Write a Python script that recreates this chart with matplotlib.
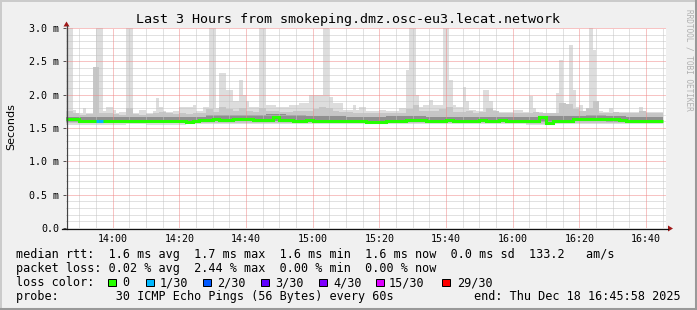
import numpy as np
import matplotlib.pyplot as plt
from matplotlib.patches import Rectangle, Polygon

W, H = 697, 310

# time axis in minutes after midnight (Thu Dec 18 2025)
t_start = 13 * 60 + 45 + 58 / 60
t_end = 16 * 60 + 45 + 58 / 60
t_data = 826  # first 60s step

# max ping per minute (ms), 179 steps
ping_max = [
    3.5, 3.5, 1.77, 1.72, 1.72, 1.80, 1.72, 1.73, 1.75, 3.5,
    3.5, 1.75, 1.82, 1.82, 1.77, 1.72, 1.74, 1.74, 3.5, 3.5,
    1.72, 1.72, 1.77, 1.77, 1.72, 1.72, 1.75, 1.95, 1.82, 1.75,
    1.74, 1.74, 1.75, 1.75, 1.82, 1.82, 1.82, 1.82, 1.85, 1.75,
    1.75, 1.82, 1.82, 3.5, 3.5, 1.80, 2.32, 2.32, 2.07, 2.07,
    1.90, 1.90, 2.22, 2.00, 1.90, 1.82, 1.82, 1.82, 3.5, 3.5,
    1.85, 1.85, 1.85, 1.82, 1.82, 1.82, 1.82, 1.85, 1.85, 1.85,
    1.88, 1.88, 1.88, 2.00, 2.00, 2.00, 2.00, 3.5, 3.5, 1.96,
    1.88, 1.88, 1.88, 1.77, 1.77, 1.77, 1.85, 1.77, 1.82, 1.82,
    1.75, 1.75, 1.75, 1.75, 1.77, 1.77, 1.75, 1.75, 1.75, 1.75,
    1.80, 1.80, 2.37, 3.5, 3.5, 2.00, 1.82, 1.85, 1.85, 1.92,
    1.85, 1.85, 1.85, 3.5, 3.5, 2.22, 1.85, 1.82, 1.82, 2.12,
    1.90, 1.77, 1.77, 1.75, 1.75, 2.07, 2.07, 1.90, 1.77, 1.74,
    1.74, 1.74, 1.74, 1.74, 1.77, 1.77, 1.77, 1.74, 1.74, 1.98,
    1.80, 1.72, 1.74, 1.72, 1.72, 1.72, 1.72, 2.02, 2.52, 1.85,
    1.77, 2.75, 2.07, 1.82, 1.85, 1.75, 1.75, 3.5, 2.67, 1.77,
    1.75, 1.74, 1.74, 1.80, 1.74, 1.74, 1.74, 1.74, 1.74, 1.74,
    1.74, 1.74, 1.82, 1.74, 1.74, 1.74, 1.74, 1.74, 1.74,
]

# 90th percentile ping and median, 2 minute steps
ping_p90 = [
    1.76, 1.72, 1.70, 1.71, 2.42, 1.72, 1.72, 1.71, 1.70, 1.80,
    1.71, 1.70, 1.71, 1.72, 1.74, 1.72, 1.71, 1.72, 1.71, 1.72,
    1.72, 1.78, 1.74, 1.82, 1.78, 1.76, 1.80, 1.76, 1.74, 1.80,
    1.76, 1.76, 1.74, 1.74, 1.75, 1.76, 1.76, 1.78, 1.82, 1.80,
    1.76, 1.74, 1.74, 1.72, 1.72, 1.72, 1.72, 1.73, 1.72, 1.72,
    1.73, 1.78, 1.85, 1.76, 1.76, 1.75, 1.78, 1.82, 1.74, 1.74,
    1.76, 1.72, 1.74, 1.80, 1.76, 1.72, 1.72, 1.72, 1.72, 1.72,
    1.74, 1.72, 1.72, 1.72, 1.88, 1.86, 1.78, 1.76, 1.80, 1.90,
    1.72, 1.72, 1.74, 1.72, 1.72, 1.72, 1.76, 1.72, 1.72, 1.72,
]
median_rtt = [
    1.63, 1.63, 1.60, 1.60, 1.60, 1.61, 1.61, 1.61, 1.60, 1.61,
    1.60, 1.60, 1.61, 1.60, 1.61, 1.61, 1.61, 1.60, 1.595, 1.60,
    1.625, 1.62, 1.63, 1.625, 1.62, 1.64, 1.64, 1.635, 1.625, 1.62,
    1.625, 1.66, 1.625, 1.62, 1.61, 1.61, 1.615, 1.61, 1.60, 1.61,
    1.61, 1.605, 1.61, 1.60, 1.61, 1.595, 1.59, 1.59, 1.605, 1.61,
    1.61, 1.615, 1.62, 1.615, 1.61, 1.61, 1.61, 1.615, 1.61, 1.61,
    1.61, 1.61, 1.615, 1.61, 1.61, 1.615, 1.61, 1.61, 1.605, 1.61,
    1.61, 1.66, 1.58, 1.61, 1.61, 1.61, 1.63, 1.63, 1.63, 1.63,
    1.63, 1.64, 1.64, 1.62, 1.61, 1.61, 1.61, 1.61, 1.605, 1.61,
]

# inner smoke and lowest ping, 6 minute steps
ping_p75 = [1.67, 1.66, 1.66, 1.66, 1.66, 1.66, 1.67, 1.69, 1.70, 1.70,
            1.71, 1.69, 1.68, 1.68, 1.67, 1.67, 1.68, 1.68, 1.67, 1.67,
            1.67, 1.66, 1.67, 1.67, 1.68, 1.68, 1.69, 1.68, 1.67, 1.66]
ping_p25 = [1.595, 1.585, 1.585, 1.59, 1.585, 1.585, 1.59, 1.60, 1.60, 1.60,
            1.60, 1.59, 1.59, 1.59, 1.59, 1.59, 1.59, 1.59, 1.59, 1.59,
            1.59, 1.59, 1.59, 1.585, 1.59, 1.60, 1.60, 1.59, 1.59, 1.59]
ping_p10 = [1.575, 1.57, 1.57, 1.57, 1.57, 1.57, 1.575, 1.58, 1.58, 1.58,
            1.58, 1.575, 1.57, 1.57, 1.57, 1.57, 1.57, 1.57, 1.57, 1.57,
            1.57, 1.57, 1.57, 1.565, 1.57, 1.58, 1.58, 1.57, 1.57, 1.57]
ping_min = [1.545, 1.55, 1.55, 1.555, 1.55, 1.55, 1.555, 1.56, 1.56, 1.56,
            1.56, 1.555, 1.555, 1.555, 1.555, 1.555, 1.555, 1.555, 1.555, 1.555,
            1.555, 1.555, 1.555, 1.55, 1.555, 1.56, 1.56, 1.555, 1.555, 1.555]

# minutes (from t_data) where 1 of 30 pings was lost
loss_minutes = [9, 10]

loss_labels = ["0", "1/30", "2/30", "3/30", "4/30", "15/30", "29/30"]
loss_colors = ["#26ff00", "#00b8ff", "#0059ff", "#5e00ff", "#7e00ff", "#dd00ff", "#ff0000"]

y_ticks = [0.0, 0.5, 1.0, 1.5, 2.0, 2.5, 3.0]
y_tick_labels = ["0.0", "0.5 m", "1.0 m", "1.5 m", "2.0 m", "2.5 m", "3.0 m"]
x_ticks = [840, 860, 880, 900, 920, 940, 960, 980, 1000]
x_tick_labels = ["14:00", "14:20", "14:40", "15:00", "15:20", "15:40", "16:00", "16:20", "16:40"]

legend_lines = [
    "median rtt:  1.6 ms avg  1.7 ms max  1.6 ms min  1.6 ms now  0.0 ms sd  133.2   am/s",
    "packet loss: 0.02 % avg  2.44 % max  0.00 % min  0.00 % now",
    "loss color:",
    "probe:        30 ICMP Echo Pings (56 Bytes) every 60s",
]
end_text = "end: Thu Dec 18 16:45:58 2025"

plt.rcParams['font.family'] = ['DejaVu Sans Mono']
mono = 'DejaVu Sans Mono'

fig = plt.figure(figsize=(W / 100, H / 100), dpi=100, facecolor='#f0f0f0')
ax = fig.add_axes([66 / W, (H - 228) / H, 600 / W, 200 / H])
ax.set_facecolor('white')
ax.set_xlim(t_start, t_end)
ax.set_ylim(0, 3.0)
for s in ax.spines.values():
    s.set_visible(False)

n = len(ping_max)
t_end_data = t_data + n
edges1 = t_data + np.arange(n + 1)
edges2 = np.minimum(t_data + 2 * np.arange(len(median_rtt) + 1), t_end_data)
edges6 = np.minimum(t_data + 6 * np.arange(len(ping_p75) + 1), t_end_data)

# smoke layers
low1 = np.repeat(ping_min, 6)[:n]
ax.stairs(ping_max, edges1, baseline=low1, fill=True, color='#dddddd', zorder=1)
low2 = np.repeat(ping_p10, 3)[:len(ping_p90)]
ax.stairs(ping_p90, edges2, baseline=low2, fill=True, color='#c6c6c6', zorder=2)
ax.stairs(ping_p75, edges6, baseline=ping_p25, fill=True, color='#8f8f8f', zorder=3)

# grid drawn over the smoke, like rrdtool
minor_x = [m for m in range(830, 1006, 5) if m not in x_ticks]
minor_y = [v / 10 for v in range(1, 30) if v % 5 != 0]
for xv in minor_x:
    ax.axvline(xv, color='#c4c4c4', lw=0.72, ls=(0, (1, 1)), zorder=3.4)
for yv in minor_y:
    ax.axhline(yv, color='#c4c4c4', lw=0.72, ls=(0, (1, 1)), zorder=3.4)
for xv in x_ticks:
    ax.axvline(xv, color='#f08888', lw=0.72, ls=(0, (1, 1)), zorder=3.5)
for yv in y_ticks[1:]:
    ax.axhline(yv, color='#f08888', lw=0.72, ls=(0, (1, 1)), zorder=3.5)

# median line coloured by loss
ax.stairs(median_rtt, edges2, baseline=None, color=loss_colors[0], lw=2.2, zorder=4)
for m in loss_minutes:
    v = median_rtt[m // 2]
    ax.hlines(v, t_data + m, t_data + m + 1, color=loss_colors[1], lw=2.2, zorder=5)

ax.set_yticks(y_ticks)
ax.set_yticklabels(y_tick_labels, fontfamily=mono, fontsize=7.2)
ax.set_xticks(x_ticks)
ax.set_xticklabels(x_tick_labels, fontfamily=mono, fontsize=7.2)
ax.tick_params(axis='y', length=2.5, width=0.72, color='#555555', pad=2.2)
ax.tick_params(axis='x', length=0, pad=4.2)

# overlay in pixel coordinates for frame, axes arrows and legend
ov = fig.add_axes([0, 0, 1, 1])
ov.set_xlim(0, W)
ov.set_ylim(H, 0)
ov.axis('off')

ov.plot([0, W], [0.75, 0.75], color='#cbcbcb', lw=1.44)
ov.plot([0.75, 0.75], [0, H], color='#cbcbcb', lw=1.44)
ov.plot([0, W], [H - 1.25, H - 1.25], color='#999999', lw=2.2)
ov.plot([W - 1.25, W - 1.25], [0, H], color='#999999', lw=2.2)

ov.plot([66.5, 66.5], [228.5, 26], color='#444444', lw=0.9)
ov.plot([62, 668], [228.5, 228.5], color='#111111', lw=0.9)
ov.add_patch(Polygon([[63.5, 26.5], [69.5, 26.5], [66.5, 21.5]], closed=True,
                     color='#a01818', lw=0))
ov.add_patch(Polygon([[668, 225.5], [668, 231.5], [673, 228.5]], closed=True,
                     color='#a01818', lw=0))

ov.text(348.5, 19, "Last 3 Hours from smokeping.dmz.osc-eu3.lecat.network",
        ha='center', va='center', fontsize=9.6, fontfamily=mono, color='black')
ov.text(11, 127, "Seconds", rotation=90, ha='center', va='center',
        fontsize=8, fontfamily='DejaVu Sans')
ov.text(689, 60, "RRDTOOL / TOBI OETIKER", rotation=270, ha='center', va='center',
        fontsize=5.6, fontfamily=mono, color='#b0b0b0')

legend_y = [254.5, 268.5, 282.5, 296.5]
for line, yy in zip(legend_lines, legend_y):
    ov.text(15.5, yy, line, ha='left', va='center', fontsize=8.5, fontfamily=mono)
ov.text(681, legend_y[3], end_text, ha='right', va='center', fontsize=8.5, fontfamily=mono)

box_x = [108, 146, 203, 261, 319, 376, 442]
label_x = [122.5, 160, 217.5, 275.5, 333.5, 389, 457.5]
for bx, lx, lab, col in zip(box_x, label_x, loss_labels, loss_colors):
    ov.add_patch(Rectangle((bx, 278.5), 7.5, 7.5, facecolor=col,
                           edgecolor='black', lw=0.72))
    ov.text(lx, legend_y[2], lab, ha='left', va='center', fontsize=8.5, fontfamily=mono)

fig.savefig('out.png', dpi=100, facecolor=fig.get_facecolor())
